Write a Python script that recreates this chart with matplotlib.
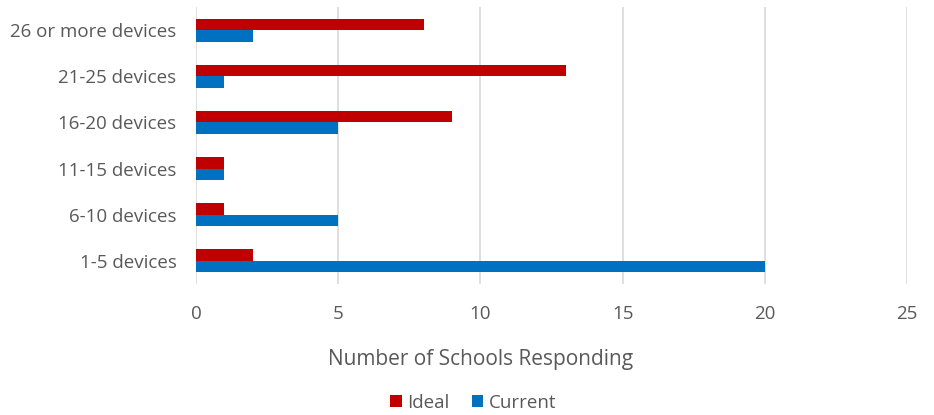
import matplotlib
matplotlib.use("Agg")
import matplotlib.pyplot as plt
import numpy as np

# ── Data ─────────────────────────────────────────────────
categories = ["1-5 devices", "6-10 devices", "11-15 devices",
              "16-20 devices", "21-25 devices", "26 or more devices"]
ideal = [2, 1, 1, 9, 13, 8]
current = [20, 5, 1, 5, 1, 2]
xticks = [0, 5, 10, 15, 20, 25]

RED = "#C00000"
BLUE = "#0070C0"
TEXT = "#595959"
GRID = "#D9D9D9"

plt.rcParams["font.family"] = ["Open Sans", "DejaVu Sans"]

fig = plt.figure(figsize=(9.34, 4.15), dpi=100)
ax = fig.add_axes([0.2099, 0.316, 0.7613, 0.667])

y = np.arange(len(categories))
h = 0.25
ax.barh(y + h / 2, ideal, h, color=RED, label="Ideal", zorder=3)
ax.barh(y - h / 2, current, h, color=BLUE, label="Current", zorder=3)

ax.set_xlim(0, 25)
ax.set_ylim(-0.5, len(categories) - 0.5)
ax.set_xticks(xticks)
ax.set_yticks(y)
ax.set_yticklabels(categories)
ax.tick_params(axis="both", length=0, labelsize=13.5, colors=TEXT)
ax.tick_params(axis="y", pad=14)
ax.tick_params(axis="x", pad=15)
ax.grid(axis="x", color=GRID, linewidth=1.2, zorder=0)
for spine in ax.spines.values():
    spine.set_visible(False)

ax.set_xlabel("Number of Schools Responding", fontsize=15, color=TEXT, labelpad=16)
ax.xaxis.set_label_coords(0.40, -0.235)

ax.legend(loc="center", bbox_to_anchor=(0.39, -0.43), ncol=2, frameon=False,
          fontsize=13.5, labelcolor=TEXT, handlelength=0.6, handleheight=0.6,
          handletextpad=0.3, columnspacing=1.2)

plt.savefig("out.png", dpi=100)
